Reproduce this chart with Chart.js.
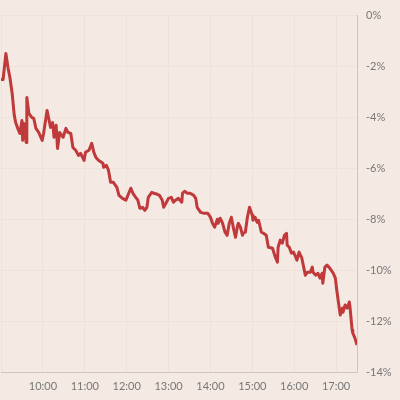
<!DOCTYPE html>
<html>
<head>
<meta charset="utf-8">
<script src="https://cdn.jsdelivr.net/npm/chart.js@4"></script>
<style>
  html, body { margin: 0; padding: 0; background: #f5e9e4; }
  #wrap { width: 400px; height: 400px; }
</style>
</head>
<body>
<div id="wrap"><canvas id="chart" width="400" height="400"></canvas></div>
<script>
// minutes after 09:00
const minutes = [0, 3, 7, 10, 13, 16, 19, 21, 24, 27, 30, 31, 33, 36, 37, 40, 44, 47, 50, 54, 59, 61, 66, 69, 71, 74, 76, 79, 81, 84, 89, 93, 96, 100, 103, 107, 111, 114, 119, 121, 126, 130, 133, 136, 140, 146, 147, 151, 154, 157, 161, 166, 169, 174, 179, 183, 186, 189, 193, 196, 199, 203, 206, 209, 211, 216, 219, 224, 227, 231, 233, 237, 240, 244, 247, 250, 254, 259, 260, 263, 267, 271, 276, 279, 281, 286, 290, 296, 300, 303, 306, 310, 311, 314, 317, 321, 324, 327, 330, 333, 336, 339, 340, 343, 346, 347, 350, 353, 356, 360, 361, 364, 367, 369, 373, 376, 380, 383, 389, 393, 396, 397, 400, 403, 406, 409, 410, 413, 416, 419, 421, 424, 427, 431, 433, 436, 439, 443, 446, 447, 451, 454, 457, 460, 461, 464, 467, 471, 476, 479, 481, 483, 486, 489, 490, 493, 496, 499, 500, 503, 504, 507, 510];
// % change
const change = [-2.51, -2.51, -1.49, -2.04, -2.47, -3.06, -3.92, -4.20, -4.43, -4.63, -4.12, -4.90, -4.24, -4.98, -3.22, -3.84, -4.00, -4.04, -4.43, -4.59, -4.90, -4.63, -3.73, -4.12, -4.39, -4.20, -4.78, -4.31, -5.22, -4.59, -4.78, -4.43, -4.59, -4.63, -5.18, -5.29, -5.49, -5.41, -5.69, -5.37, -5.29, -5.02, -5.37, -5.57, -5.69, -5.80, -5.96, -5.88, -6.08, -6.55, -6.55, -6.75, -7.06, -7.18, -7.25, -6.98, -6.78, -6.98, -7.14, -7.25, -7.57, -7.53, -7.65, -7.53, -7.14, -6.94, -6.98, -7.02, -7.06, -7.25, -7.53, -7.33, -7.18, -7.14, -7.33, -7.25, -7.18, -7.33, -6.98, -6.90, -6.98, -6.98, -7.06, -7.18, -7.53, -7.73, -7.76, -7.76, -7.92, -8.16, -8.31, -8.00, -8.16, -7.96, -8.12, -8.51, -8.63, -8.16, -7.92, -8.35, -8.71, -8.24, -8.16, -8.31, -8.63, -8.55, -8.51, -7.92, -7.53, -7.84, -8.04, -7.92, -8.12, -8.04, -8.51, -8.55, -8.63, -9.10, -9.14, -9.49, -9.69, -9.10, -8.82, -8.94, -8.63, -8.55, -9.02, -9.10, -9.33, -9.29, -9.41, -9.61, -9.29, -9.53, -9.80, -10.20, -10.08, -10.08, -9.88, -10.08, -10.20, -10.12, -10.31, -10.12, -10.51, -9.88, -9.80, -9.92, -10.12, -10.31, -10.78, -11.18, -11.76, -11.49, -11.65, -11.37, -11.49, -11.25, -11.45, -12.35, -12.47, -12.67, -12.94];
const xTicks = [0, 60, 120, 180, 240, 300, 360, 420, 480];
const yTicks = [0, -2, -4, -6, -8, -10, -12, -14];

const points = minutes.map((m, i) => ({ x: m, y: change[i] }));
const gridColor = "#efe2d8";
const axisColor = "#cfc6c1";
const font = { family: "Lato", size: 11 };

new Chart(document.getElementById("chart"), {
  type: "line",
  data: {
    datasets: [
      {
        data: points,
        borderColor: "#c0393b",
        borderWidth: 3,
        pointRadius: 0,
        tension: 0,
        borderJoinStyle: "round",
      },
    ],
  },
  options: {
    responsive: false,
    animation: false,
    layout: { padding: { top: 15, left: 1, right: 0, bottom: 0 } },
    plugins: { legend: { display: false }, tooltip: { enabled: false } },
    scales: {
      x: {
        type: "linear",
        min: 0,
        max: 510,
        afterBuildTicks: (s) => { s.ticks = xTicks.map((v) => ({ value: v })); },
        afterFit: (s) => {
          s.height = 28;
          s.paddingLeft = 0;
          s.paddingRight = 0;
        },
        border: { color: axisColor, width: 1 },
        grid: { color: gridColor, drawTicks: false },
        ticks: {
          padding: 8,
          color: "#777",
          font: font,
          maxRotation: 0,
          autoSkip: false,
          callback: (v) => (v === 0 ? "" : (9 + v / 60) + ":00"),
        },
      },
      y: {
        position: "right",
        min: -14,
        max: 0,
        afterBuildTicks: (s) => { s.ticks = yTicks.map((v) => ({ value: v })); },
        afterFit: (s) => { s.width = 43; },
        border: { color: axisColor, width: 1 },
        grid: { color: gridColor, drawTicks: false },
        ticks: {
          padding: 9,
          color: "#777",
          font: font,
          callback: (v) => v + "%",
        },
      },
    },
  },
});
</script>
</body>
</html>
